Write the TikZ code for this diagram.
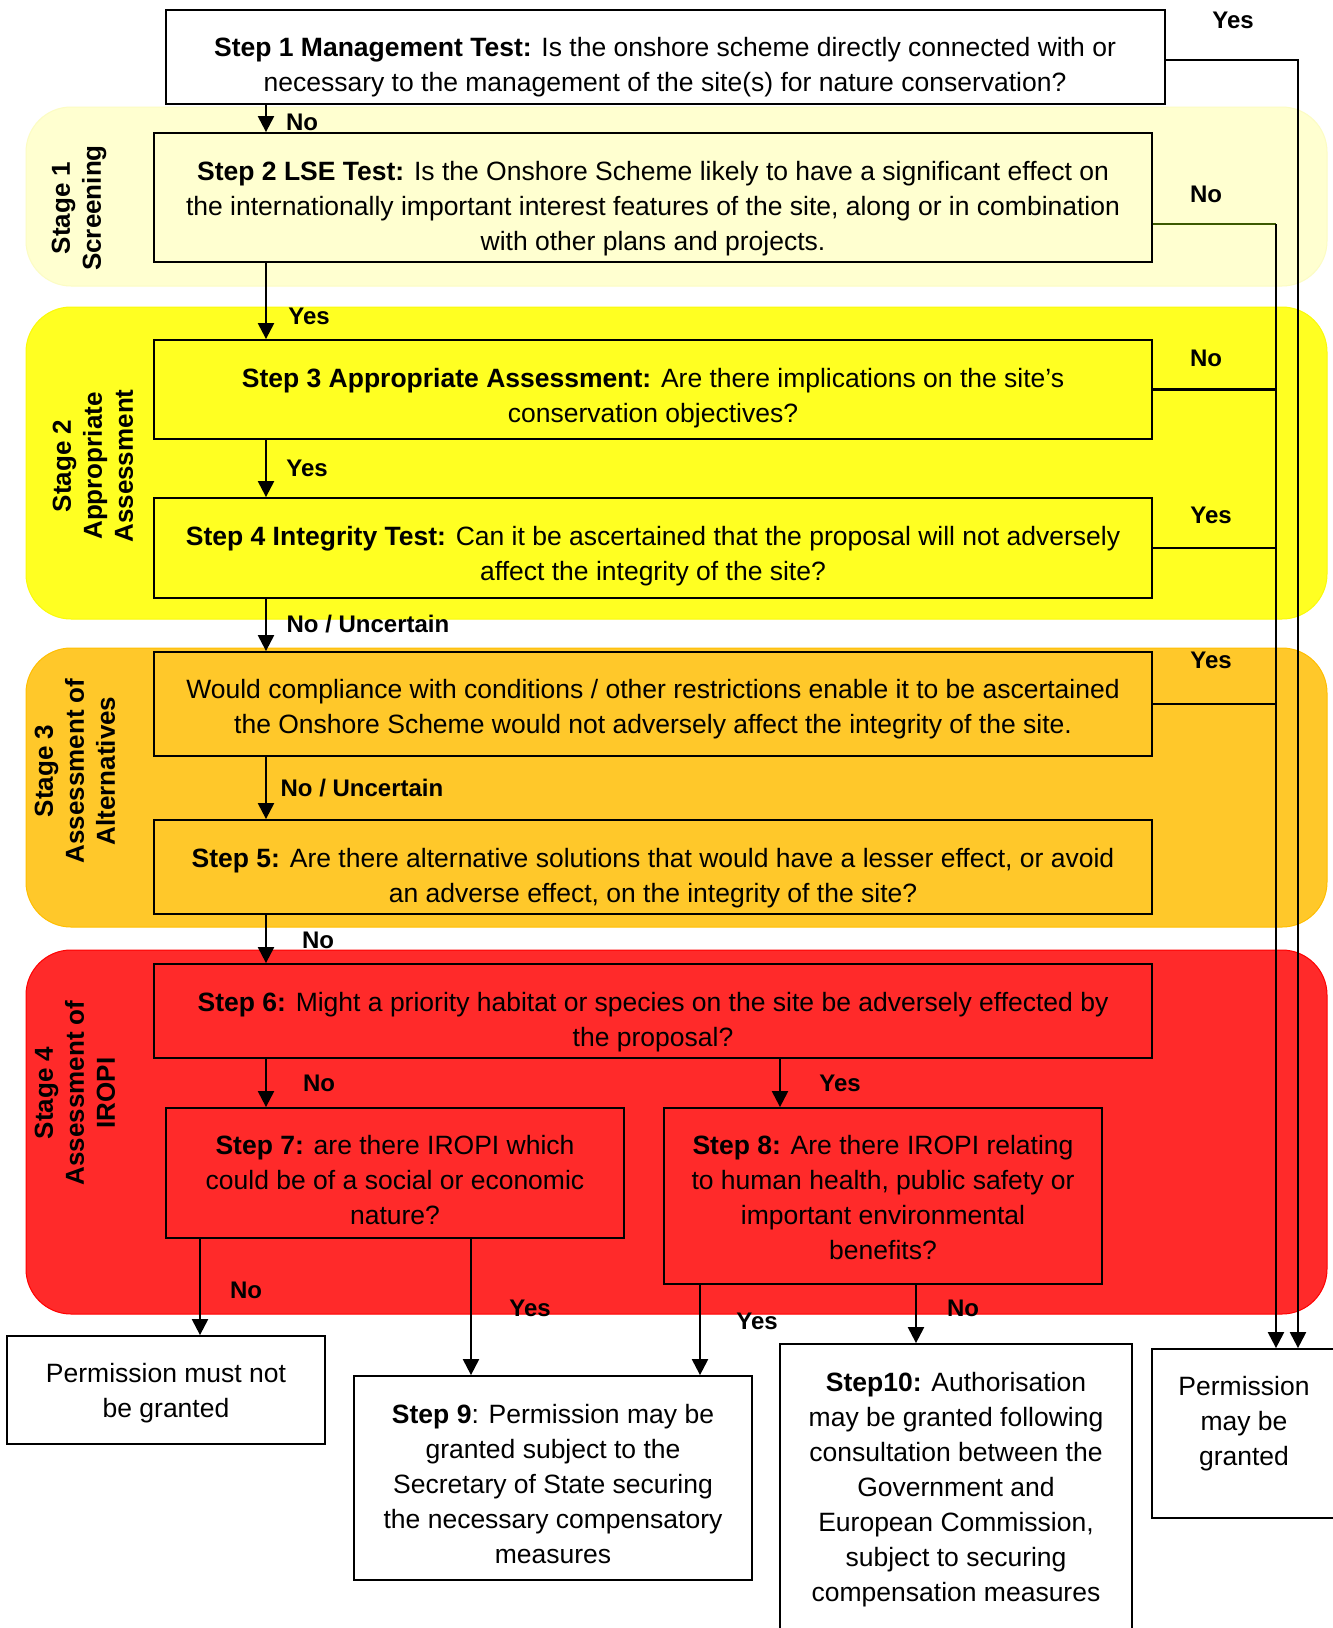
\documentclass[tikz,border=0pt]{standalone}
\usepackage{fontspec}
\setmainfont{Liberation Sans}
\usetikzlibrary{arrows.meta}
\definecolor{bandA}{RGB}{255,255,208}
\definecolor{bandAe}{RGB}{252,252,195}
\definecolor{bandB}{RGB}{255,255,34}
\definecolor{bandBe}{RGB}{250,250,10}
\definecolor{bandC}{RGB}{255,200,42}
\definecolor{bandCe}{RGB}{255,190,0}
\definecolor{bandD}{RGB}{255,42,42}
\definecolor{bandDe}{RGB}{255,0,0}
\definecolor{lineolive}{RGB}{60,90,0}
\begin{document}
\begin{tikzpicture}[x=1pt,y=-1pt,
 band/.style={rectangle, rounded corners=45pt, line width=1pt, inner sep=0pt},
 box/.style={rectangle, draw=black, line width=1.8pt, inner sep=0pt},
 txt/.style={align=center, inner sep=0pt, font=\fontsize{26.5}{35}\selectfont},
 lbl/.style={inner sep=0pt, font=\bfseries\fontsize{24}{28}\selectfont},
 stage/.style={rotate=90, align=center, inner sep=0pt, font=\bfseries\fontsize{26}{31}\selectfont},
 arr/.style={line width=2.2pt, -{Triangle[length=16pt,width=16pt]}},
 ln/.style={line width=2.2pt}]
\useasboundingbox (0,0) rectangle (1333,1628);
\clip (0,0) rectangle (1333,1628);
\fill[white] (0,0) rectangle (1333,1628);
% stage bands
\node[band, fill=bandA, draw=bandAe, minimum width=1301pt, minimum height=179pt] (b1) at (676.5,196.5) {};
\node[band, fill=bandB, draw=bandBe, minimum width=1301pt, minimum height=312pt] (b2) at (676.5,463) {};
\node[band, fill=bandC, draw=bandCe, minimum width=1301pt, minimum height=279pt] (b3) at (676.5,787.5) {};
\node[band, fill=bandD, draw=bandDe, minimum width=1301pt, minimum height=364pt] (b4) at (676.5,1132) {};
% stage labels
\node[stage] (st1) at (79,208) {Stage 1\\Screening};
\node[stage] (st2) at (93,466) {Stage 2\\Appropriate\\Assessment};
\node[stage] (st3) at (75,771) {Stage 3\\Assessment of\\Alternatives};
\node[stage] (st4) at (75,1093) {Stage 4\\Assessment of\\IROPI};
% boxes
\node[box, fill=white, minimum width=999pt, minimum height=94pt] (s1) at (665.5,57) {};
\node[box, fill=bandA, minimum width=998pt, minimum height=129pt] (s2) at (653,197.5) {};
\node[box, fill=bandB, minimum width=998pt, minimum height=99pt] (s3) at (653,389.5) {};
\node[box, fill=bandB, minimum width=998pt, minimum height=100pt] (s4) at (653,548) {};
\node[box, fill=bandC, minimum width=998pt, minimum height=104pt] (sc) at (653,704) {};
\node[box, fill=bandC, minimum width=998pt, minimum height=94pt] (s5) at (653,867) {};
\node[box, fill=bandD, minimum width=998pt, minimum height=94pt] (s6) at (653,1011) {};
\node[box, fill=bandD, minimum width=458pt, minimum height=130pt] (s7) at (395,1173) {};
\node[box, fill=bandD, minimum width=438pt, minimum height=176pt] (s8) at (883,1196) {};
\node[box, fill=white, minimum width=318pt, minimum height=108pt] (pn) at (166,1390) {};
\node[box, fill=white, minimum width=398pt, minimum height=204pt] (s9) at (553,1478) {};
\node[box, fill=white, minimum width=352pt, minimum height=316pt] (s10) at (956,1502) {};
\node[box, fill=white, minimum width=184pt, minimum height=169pt] (pm) at (1244,1433.5) {};
% box texts
\node[txt] (s1t) at (665,67.5) {\textbf{Step 1 Management Test:} Is the onshore scheme directly connected with or\\necessary to the management of the site(s) for nature conservation?};
\node[txt] (s2t) at (653,209) {\textbf{Step 2 LSE Test:} Is the Onshore Scheme likely to have a significant effect on\\the internationally important interest features of the site, along or in combination\\with other plans and projects.};
\node[txt] (s3t) at (653,398) {\textbf{Step 3 Appropriate Assessment:} Are there implications on the site’s\\conservation objectives?};
\node[txt] (s4t) at (653,556) {\textbf{Step 4 Integrity Test:} Can it be ascertained that the proposal will not adversely\\affect the integrity of the site?};
\node[txt] (sct) at (653,709) {Would compliance with conditions / other restrictions enable it to be ascertained\\the Onshore Scheme would not adversely affect the integrity of the site.};
\node[txt] (s5t) at (653,878) {\textbf{Step 5:} Are there alternative solutions that would have a lesser effect, or avoid\\an adverse effect, on the integrity of the site?};
\node[txt] (s6t) at (653,1022) {\textbf{Step 6:} Might a priority habitat or species on the site be adversely effected by\\the proposal?};
\node[txt] (s7t) at (395,1180) {\textbf{Step 7:} are there IROPI which\\could be of a social or economic\\nature?};
\node[txt] (s8t) at (883,1197.5) {\textbf{Step 8:} Are there IROPI relating\\to human health, public safety or\\important environmental\\benefits?};
\node[txt] (pnt) at (166,1393.5) {Permission must not\\be granted};
\node[txt] (s9t) at (553,1484.5) {\textbf{Step 9}: Permission may be\\granted subject to the\\Secretary of State securing\\the necessary compensatory\\measures};
\node[txt] (s10t) at (956,1490) {\textbf{Step10:} Authorisation\\may be granted following\\consultation between the\\Government and\\European Commission,\\subject to securing\\compensation measures};
\node[txt] (pmt) at (1244,1424) {Permission\\may be\\granted};
% connector coordinates
\coordinate (ax) at (266,0);
\coordinate (bx) at (780,0);
\coordinate (cx) at (200,0);
\coordinate (dx) at (471,0);
\coordinate (ex) at (700,0);
\coordinate (fx) at (916,0);
\coordinate (jY) at (1298,60);
\coordinate (jN) at (1276,224);
% main vertical flow
\draw[arr] (s1.south -| ax) -- (s2.north -| ax);
\draw[arr] (s2.south -| ax) -- (s3.north -| ax);
\draw[arr] (s3.south -| ax) -- (s4.north -| ax);
\draw[arr] (s4.south -| ax) -- (sc.north -| ax);
\draw[arr] (sc.south -| ax) -- (s5.north -| ax);
\draw[arr] (s5.south -| ax) -- (s6.north -| ax);
\draw[arr] (s6.south -| ax) -- (s7.north -| ax);
\draw[arr] (s6.south -| bx) -- (s8.north -| bx);
\draw[arr] (s7.south -| cx) -- (pn.north -| cx);
\draw[arr] (s7.south -| dx) -- (s9.north -| dx);
\draw[arr] (s8.south -| ex) -- (s9.north -| ex);
\draw[arr] (s8.south -| fx) -- (s10.north -| fx);
% right side
\draw[arr] (s1.east |- jY) -- (jY) -- (jY |- pm.north);
\draw[ln, draw=lineolive] (s2.east |- jN) -- (jN);
\draw[arr] (jN) -- (jN |- pm.north);
\draw[ln] (s3.east) -- (s3.east -| jN);
\draw[ln] (s4.east) -- (s4.east -| jN);
\draw[ln] (sc.east) -- (sc.east -| jN);
% labels
\node[lbl] (l1) at (1233,20) {Yes};
\node[lbl] (l2) at (302,122) {No};
\node[lbl] (l3) at (1206,194) {No};
\node[lbl] (l4) at (309,316) {Yes};
\node[lbl] (l5) at (1206,358) {No};
\node[lbl] (l6) at (307,468) {Yes};
\node[lbl] (l7) at (1211,515) {Yes};
\node[lbl] (l8) at (368,624) {No / Uncertain};
\node[lbl] (l9) at (1211,660) {Yes};
\node[lbl] (l10) at (362,788) {No / Uncertain};
\node[lbl] (l11) at (318,940) {No};
\node[lbl] (l12) at (319,1083) {No};
\node[lbl] (l13) at (840,1083) {Yes};
\node[lbl] (l14) at (246,1290) {No};
\node[lbl] (l15) at (530,1308) {Yes};
\node[lbl] (l16) at (757,1321) {Yes};
\node[lbl] (l17) at (963,1308) {No};
\end{tikzpicture}
\end{document}
